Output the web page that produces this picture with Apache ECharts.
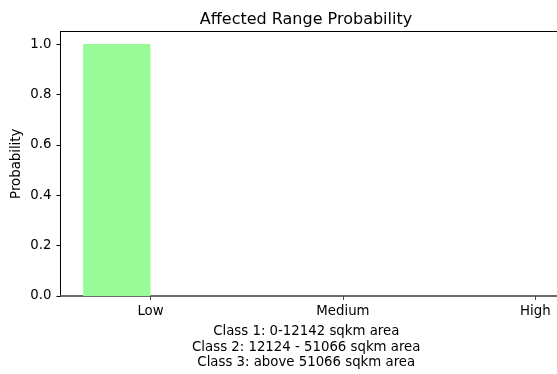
<!DOCTYPE html>
<html>
<head>
<meta charset="utf-8">
<script src="https://cdn.jsdelivr.net/npm/echarts@6/dist/echarts.min.js"></script>
<style>html,body{margin:0;padding:0;background:#fff;}#c{width:557px;height:374px;}</style>
</head>
<body>
<div id="c"></div>
<script>
const categories = ['Low', 'Medium', 'High'];
const probabilities = [1.0, 0, 0];
const yTicks = [0, 0.2, 0.4, 0.6, 0.8, 1.0];
const xLabelLines = ['Class 1: 0-12142 sqkm area', 'Class 2: 12124 - 51066 sqkm area', 'Class 3: above 51066 sqkm area'];
const titleText = 'Affected Range Probability';
const yName = 'Probability';

const FONT = 'DejaVu Sans';
const FS = 13.3;
const chart = echarts.init(document.getElementById('c'), null, {renderer: 'canvas'});
const BAR_W = 0.35;
const seriesData = probabilities.map((v, i) => [i, v]);

chart.setOption({
  animation: false,
  backgroundColor: '#fff',
  title: {
    text: titleText, left: 301, top: 7, textAlign: 'center',
    textStyle: {fontFamily: FONT, fontSize: 16, fontWeight: 'normal', color: '#000'}
  },
  grid: {left: 60.5, top: 31.5, width: 497.5, height: 264.5, outerBoundsMode: 'none', containLabel: false, show: true, borderColor: '#000', borderWidth: 1, backgroundColor: 'transparent'},
  xAxis: {
    type: 'value', min: -0.4675, max: 2.1175,
    splitLine: {show: false},
    axisLine: {show: true, onZero: false, lineStyle: {color: '#666', width: 1.5}},
    axisTick: {show: true, customValues: [0, 1, 2], length: 4, lineStyle: {color: '#444'}},
    axisLabel: {
      customValues: [0, 1, 2], margin: 9,
      formatter: v => categories[Math.round(v)],
      fontFamily: FONT, fontSize: FS, color: '#000'
    },
    name: xLabelLines.join('\n'), nameLocation: 'middle', nameGap: 28,
    nameTextStyle: {fontFamily: FONT, fontSize: FS, color: '#000', lineHeight: 15.5, align: 'center', padding: [0, 0, 0, -6]}
  },
  yAxis: {
    type: 'value', min: 0, max: 1.05,
    splitLine: {show: false},
    axisLine: {show: true, onZero: false, lineStyle: {color: '#000'}},
    axisTick: {show: true, customValues: yTicks, length: 4, lineStyle: {color: '#000'}},
    axisLabel: {customValues: yTicks, formatter: v => v.toFixed(1), margin: 9, fontFamily: FONT, fontSize: FS, color: '#000'},
    name: yName, nameLocation: 'middle', nameGap: 37, nameMoveOverlap: false,
    nameTextStyle: {fontFamily: FONT, fontSize: FS, color: '#000'}
  },
  series: [{
    type: 'custom',
    data: seriesData,
    renderItem: function (params, api) {
      const x = api.value(0), y = api.value(1);
      const p1 = api.coord([x - BAR_W, y]);
      const p0 = api.coord([x, 0]);
      return {
        type: 'rect',
        shape: {x: p1[0], y: p1[1], width: p0[0] - p1[0], height: p0[1] - p1[1]},
        style: {fill: '#98FB98'}
      };
    },
    z: 1
  }]
});
</script>
</body>
</html>
